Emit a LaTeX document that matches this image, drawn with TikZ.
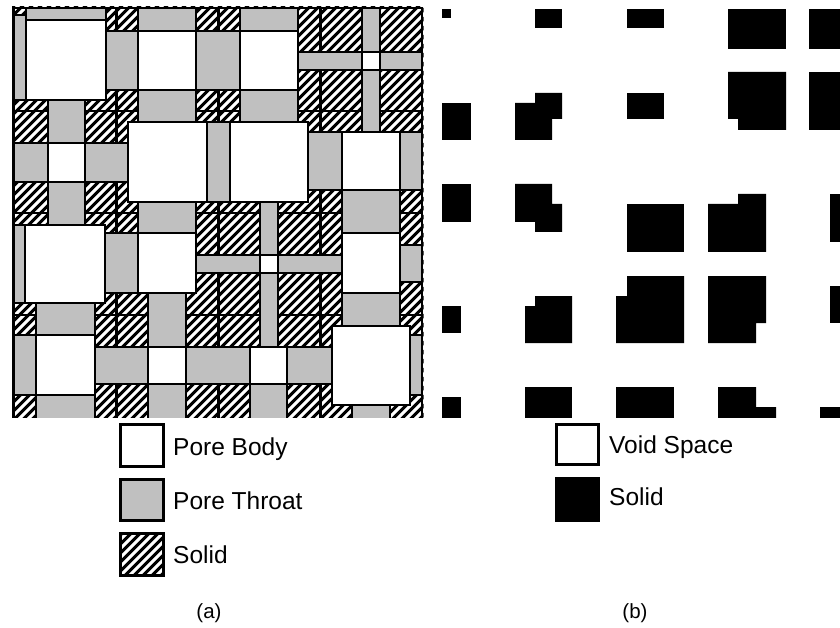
\documentclass[tikz,border=0pt]{standalone}
\usepackage{fontspec}
\setmainfont{Liberation Sans}
\definecolor{throatgray}{RGB}{192,192,192}
\begin{document}
\begin{tikzpicture}[x=1pt,y=-1pt,
  hatchline/.style={draw=black,line width=3.1pt},
  cellborder/.style={draw=black,line width=2.8pt},
  throat/.style={fill=throatgray,draw=black,line width=2.8pt},
  body/.style={fill=white,draw=black,line width=2.8pt},
  blob/.style={fill=black},
  legbox/.style={draw=black,line width=3pt},
  legtext/.style={font=\fontsize{24.5}{28}\selectfont,anchor=base west,inner sep=0pt},
  panlabel/.style={font=\fontsize{20.5}{24}\selectfont,anchor=base,inner sep=0pt}]
\useasboundingbox (0,0) rectangle (840,628);
\fill[white] (0,0) rectangle (840,628);
% ---------- panel (a) ----------
\begin{scope}
\clip (12,6.5) rectangle (423.5,417);
% solid hatching over the whole panel
\foreach \k in {-48,...,48}
  \draw[hatchline] (13.5+9*\k,420) -- (13.5+9*\k+420,0);
\foreach \xa/\xb in {13.5/116.5,116.5/218.5,218.5/320.5,320.5/422}
  \foreach \ya/\yb in {8/111,111/213,213/315,315/420}
    \draw[cellborder] (\xa,\ya) rectangle (\xb,\yb);
% horizontal throats
\foreach \xa/\ya/\xb/\yb in {
  13.5/15/26/100, 106/31/138/90, 196/31/240/90, 298/52/362/70, 380/52/422/70,
  13.5/143/48/182, 85/143/128/182, 207/122/230/202, 308/132/342/190, 400/132/422/190,
  13.5/225/25/303, 105/233/138/293, 196/255/260/273, 278/255/342/273, 400/245/422/282,
  13.5/335/36/395, 95/347/148/384, 186/347/250/384, 287/347/332/384, 410/335/422/395}
  \draw[throat] (\xa,\ya) rectangle (\xb,\yb);
% vertical throats
\foreach \xa/\ya/\xb/\yb in {
  26/8/106/20, 138/8/196/31, 240/8/298/31, 362/8/380/52,
  48/100/85/143, 138/90/196/122, 240/90/298/122, 362/70/380/132,
  48/182/85/225, 138/202/196/233, 260/202/278/255, 342/190/400/233,
  36/303/95/335, 148/293/186/347, 260/273/278/347, 342/293/400/326,
  36/395/95/420, 148/384/186/420, 250/384/287/420, 352/405/390/420}
  \draw[throat] (\xa,\ya) rectangle (\xb,\yb);
% pore bodies
\foreach \xa/\ya/\xb/\yb in {
  26/20/106/100, 138/31/196/90, 240/31/298/90, 362/52/380/70,
  48/143/85/182, 128/122/207/202, 230/122/308/202, 342/132/400/190,
  25/225/105/303, 138/233/196/293, 260/255/278/273, 342/233/400/293,
  36/335/95/395, 148/347/186/384, 250/347/287/384, 332/326/410/405}
  \draw[body] (\xa,\ya) rectangle (\xb,\yb);
\end{scope}
% ---------- panel (b) ----------
\begin{scope}
\clip (430,0) rectangle (840,417);
\fill[blob] (442,9) rectangle (451,18);
\fill[blob] (535,9) rectangle (562,28);
\fill[blob] (627,9) rectangle (664,28);
\fill[blob] (728,9) rectangle (786,49);
\fill[blob] (809,9) rectangle (842,49);
\fill[blob] (442,103) rectangle (471,140);
\fill[blob] (515,140) -- (515,103) -- (535,103) -- (535,93) -- (562,93) -- (562,119) -- (552,119) -- (552,140) -- cycle;
\fill[blob] (627,93) rectangle (664,119);
\fill[blob] (728,72) -- (786,72) -- (786,130) -- (738,130) -- (738,119) -- (728,119) -- cycle;
\fill[blob] (809,72) rectangle (842,130);
\fill[blob] (442,184) rectangle (471,222);
\fill[blob] (515,184) -- (552,184) -- (552,204) -- (562,204) -- (562,232) -- (535,232) -- (535,222) -- (515,222) -- cycle;
\fill[blob] (627,204) rectangle (684,252);
\fill[blob] (708,204) -- (738,204) -- (738,194) -- (766,194) -- (766,252) -- (708,252) -- cycle;
\fill[blob] (830,194) rectangle (842,242);
\fill[blob] (442,306) rectangle (461,333);
\fill[blob] (525,306) -- (535,306) -- (535,296) -- (572,296) -- (572,343) -- (525,343) -- cycle;
\fill[blob] (616,343) -- (616,296) -- (627,296) -- (627,276) -- (684,276) -- (684,343) -- cycle;
\fill[blob] (708,276) -- (766,276) -- (766,323) -- (756,323) -- (756,343) -- (708,343) -- cycle;
\fill[blob] (830,286) rectangle (842,323);
\fill[blob] (442,397) rectangle (461,420);
\fill[blob] (525,387) rectangle (572,420);
\fill[blob] (616,387) rectangle (674,420);
\fill[blob] (718,387) -- (756,387) -- (756,407) -- (776,407) -- (776,420) -- (718,420) -- cycle;
\fill[blob] (820,407) rectangle (842,420);
\end{scope}
% ---------- legends ----------
\draw[legbox,fill=white] (120.5,424.5) rectangle (163.5,466.5);
\draw[legbox,fill=throatgray] (120.5,479.5) rectangle (163.5,520.5);
\begin{scope}
\clip (120.5,533.5) rectangle (163.5,575.5);
\foreach \k in {-6,...,6}
  \draw[hatchline] (120.5+9*\k,580) -- (120.5+9*\k+60,520);
\end{scope}
\draw[legbox] (120.5,533.5) rectangle (163.5,575.5);
\node[legtext] (lpb) at (173,455) {Pore Body};
\node[legtext] (lpt) at (173,509) {Pore Throat};
\node[legtext] (lso) at (173,563) {Solid};
\draw[legbox,fill=white] (556.5,424.5) rectangle (598.5,464.5);
\fill[black] (555,477) rectangle (600,522);
\node[legtext] (lvs) at (609,453) {Void Space};
\node[legtext] (lsb) at (609,505) {Solid};
\node[panlabel] (pa) at (209,618) {(a)};
\node[panlabel] (pb) at (635,618) {(b)};
\end{tikzpicture}
\end{document}
